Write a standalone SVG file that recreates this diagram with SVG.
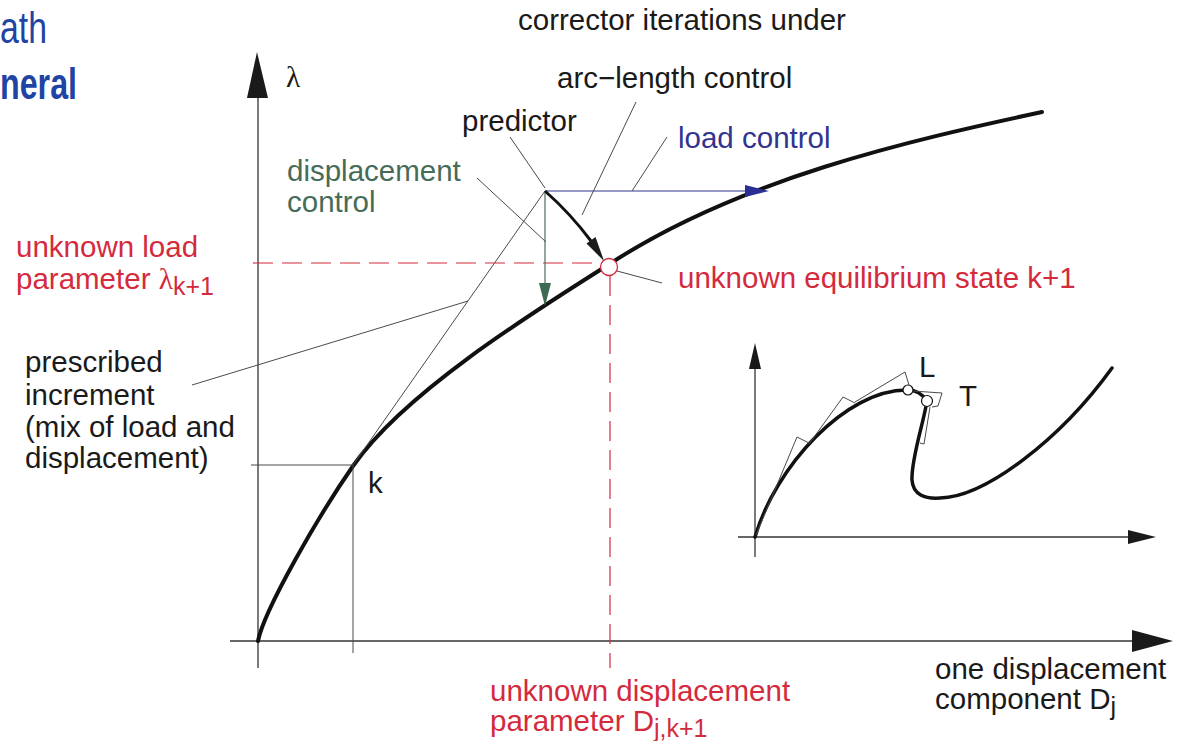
<svg xmlns="http://www.w3.org/2000/svg" width="1183" height="741" viewBox="0 0 1183 741">
<style>
text{font-family:"Liberation Sans",Arial,sans-serif;font-size:29.5px;fill:#1a1a1a}
.title{fill:#1f44a3;font-size:45px}
.red{fill:#d42a3d}
.blue{fill:#31358f}
.green{fill:#466c58}
.serif{font-family:"Liberation Serif","Times New Roman",serif}
.axis{stroke:#333;stroke-width:1.3;fill:none}
.thin{stroke:#4a4a4a;stroke-width:1;fill:none}
.curve{stroke:#111;stroke-width:4;fill:none;stroke-linecap:round}
.icurve{stroke:#111;stroke-width:3.5;fill:none;stroke-linecap:round}
.dash{stroke:#d42a3d;stroke-width:1.2;fill:none;stroke-dasharray:20 9}
.head{fill:#1a1a1a}
</style>
<rect width="1183" height="741" fill="#ffffff"/>

<g id="title">
<text class="title" x="0" y="43" textLength="47" lengthAdjust="spacingAndGlyphs">ath</text>
<text class="title" x="0" y="99" font-weight="bold" textLength="77" lengthAdjust="spacingAndGlyphs">neral</text>
</g>

<g id="axes">
<line class="axis" x1="258" y1="668" x2="258" y2="90"/>
<polygon class="head" points="257,52 247,98 268,98"/>
<line class="axis" x1="230" y1="641" x2="1140" y2="641"/>
<polygon class="head" points="1173,641 1132,630 1132,652"/>
<text id="lambda-axis" class="serif" x="286" y="87" font-size="30">λ</text>
</g>

<g id="equilibrium-path">
<path class="curve" d="M258,641 C264,610 319,515 353,466 C403,394 527,316 608,265 C738,179 912,140 1042,112"/>
</g>

<g id="connectors">
<line class="thin" x1="251" y1="465" x2="353" y2="465"/>
<line class="thin" x1="353" y1="465" x2="353" y2="653"/>
<line class="thin" x1="353" y1="465" x2="545" y2="191"/>
<line class="dash" x1="253" y1="263" x2="600" y2="263"/>
<line class="dash" x1="610" y1="276" x2="610" y2="668"/>
<line x1="545" y1="191" x2="748" y2="191" stroke="#31358f" stroke-width="1.2"/>
<polygon points="769,191 745,185 745,197" fill="#2b2f94"/>
<line x1="545" y1="191" x2="545" y2="286" stroke="#4d6b5c" stroke-width="1.2"/>
<polygon points="545,306 539,283 551,283" fill="#3d6b52"/>
<path d="M545,191 A334,334 0 0 1 591,241" stroke="#111" stroke-width="3" fill="none"/>
<polygon class="head" points="604,261 595.5,237 586.5,243.5"/>
<line class="thin" x1="510" y1="137" x2="545" y2="188"/>
<line class="thin" x1="477" y1="178" x2="546" y2="242"/>
<line class="thin" x1="636" y1="102" x2="582" y2="215"/>
<line class="thin" x1="667" y1="137" x2="632" y2="191"/>
<line class="thin" x1="192" y1="385" x2="468" y2="301"/>
<line class="thin" x1="617" y1="271" x2="662" y2="283"/>
</g>

<g id="state-k1">
<circle cx="609" cy="267" r="8.5" fill="#fff" stroke="#d42a3d" stroke-width="1.3"/>
</g>

<g id="labels">
<text id="t-corrector" x="518" y="30">corrector iterations under</text>
<text id="t-arc" x="557" y="88">arc−length control</text>
<text id="t-predictor" x="462" y="131">predictor</text>
<text id="t-load" class="blue" x="678" y="148">load control</text>
<g id="t-disp" class="green"><text class="green" x="287" y="181">displacement</text><text class="green" x="287" y="212">control</text></g>
<g id="t-lambda"><text class="red" x="16" y="257">unknown load</text><text class="red" x="16" y="289">parameter <tspan class="serif">λ</tspan><tspan font-size="25" dy="6">k+1</tspan></text></g>
<text id="t-eq" class="red" x="678" y="288">unknown equilibrium state k+1</text>
<g id="t-prescribed"><text x="25" y="372">prescribed</text><text x="25" y="405">increment</text><text x="25" y="437">(mix of load and</text><text x="25" y="468">displacement)</text></g>
<text id="t-k" x="368" y="493">k</text>
<g id="t-dpar"><text class="red" x="490" y="701">unknown displacement</text><text class="red" x="490" y="731">parameter D<tspan font-size="25" dy="6">j,k+1</tspan></text></g>
<g id="t-comp"><text x="935" y="679">one displacement</text><text x="935" y="709">component D<tspan font-size="25" dy="6">j</tspan></text></g>
</g>

<g id="inset">
<line class="axis" x1="755" y1="557" x2="755" y2="360"/>
<polygon class="head" points="755,343 749,369 761,369"/>
<line class="axis" x1="738" y1="537" x2="1135" y2="537"/>
<polygon class="head" points="1156,537 1128,530 1128,544"/>
<path class="icurve" d="M755,537 C775,468 845,389 908,390 C916,390 923,395 927,401 C923,425 911,460 912,480 C913,495 925,499 940,498 C985,497 1060,440 1112,368"/>
<path class="thin" d="M756,535 L797,437 L809,443 M809,444 L843,397 L855,403 M855,402 L905,372 L909,385 M913,391 L942,393 L938,406 L932,407 M930,407 L924,444 L920,443"/>
<circle cx="908" cy="390" r="5" fill="#fff" stroke="#111" stroke-width="1.2"/>
<circle cx="927" cy="401" r="5.5" fill="#fff" stroke="#111" stroke-width="1.2"/>
<text id="t-L" x="919" y="377" font-size="25">L</text>
<text id="t-T" x="959" y="406" font-size="25">T</text>
</g>
</svg>
